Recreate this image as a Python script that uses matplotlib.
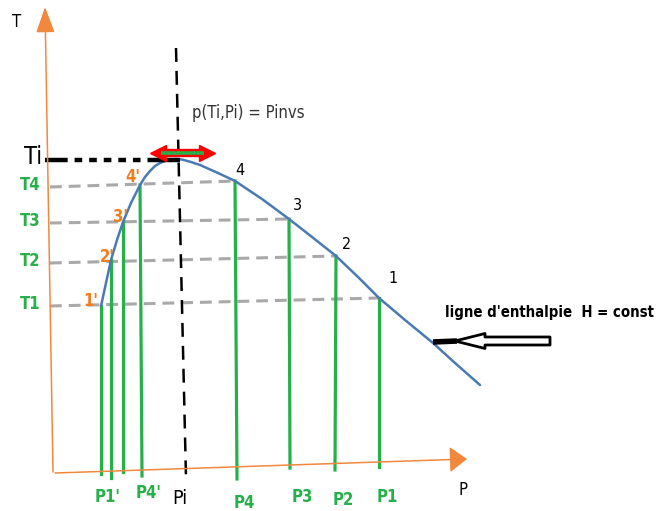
import matplotlib.pyplot as plt

plt.rcParams['lines.scale_dashes'] = False
plt.rcParams['font.family'] = ['DejaVu Sans']
plt.rcParams['font.stretch'] = 'condensed'

GREEN = '#27b04a'
ORANGE = '#f0883e'
ORANGE_TXT = '#f07d20'
BLUE = '#4a7ab4'
GRAY = '#a9a9a9'

# isenthalpic line H = const, sampled as (P, T)
curve_p = [46, 51, 56, 62, 68, 76, 85, 90, 95, 100, 105, 110, 115, 121, 127, 136, 145, 154,
           163, 180, 207, 234, 257, 281, 303, 324, 350, 378, 400, 425]
curve_t = [166, 189, 212, 232, 250, 269, 287, 295, 301, 306, 309, 311, 312.5, 313, 312.5, 310, 307, 303,
           299, 291, 273, 253, 235, 216, 195, 174, 152, 129, 109, 87]

# states on the rising branch (1'..4') and on the falling branch (1..4)
low_names = ["1'", "2'", "3'", "4'"]
low_p = [46, 56, 68, 85]
low_t = [166, 212, 250, 287]
low_foot_p = [46, 56, 68, 87]
low_foot_t = [-2, -6, 0, -4]

high_names = ['1', '2', '3', '4']
high_p = [324, 281, 234, 180]
high_t = [174, 216, 253, 291]
high_foot_p = [324, 280, 235, 182]
high_foot_t = [5, 2, 4, -7]

# isotherms T1..T4
iso_names = ['T1', 'T2', 'T3', 'T4']
iso_start_t = [166, 209, 249, 285]

# inversion point
p_inv_top, p_inv_bottom = 121, 131
t_inv = 312

fig = plt.figure(figsize=(6.64, 5.11), dpi=100)
ax = fig.add_axes([0, 0, 1, 1])
ax.set_xlim(-55, 609)
ax.set_ylim(-39, 472)
ax.axis('off')

# axes arrows
ax.annotate('', xy=(-10, 465), xytext=(-2, 0),
            arrowprops=dict(arrowstyle='-|>,head_length=0.8,head_width=0.29',
                            color=ORANGE, lw=1.1, mutation_scale=20,
                            shrinkA=0, shrinkB=0))
ax.annotate('', xy=(412, 13), xytext=(0, -1),
            arrowprops=dict(arrowstyle='-|>,head_length=0.54,head_width=0.4',
                            color=ORANGE, lw=1.1, mutation_scale=20,
                            shrinkA=0, shrinkB=0))
ax.text(-38, 450, 'T', fontsize=12, ha='center', va='center')
ax.text(408, -18, 'P', fontsize=12, ha='center', va='center')

# isotherms
for name, t0, p1, t1 in zip(iso_names, iso_start_t, high_p, high_t):
    ax.plot([-5, p1], [t0, t1], color=GRAY, lw=2.2, dashes=(8.5, 5), zorder=1)
    ax.text(-25, t0 + 2, name, color=GREEN, fontsize=12, fontweight='bold',
            ha='center', va='center')

# vertical drops to the pressure axis
for p, t, fp, ft in zip(low_p, low_t, low_foot_p, low_foot_t):
    ax.plot([p, fp], [t, ft], color=GREEN, lw=2.3, zorder=2)
for p, t, fp, ft in zip(high_p, high_t, high_foot_p, high_foot_t):
    ax.plot([p, fp], [t, ft], color=GREEN, lw=2.3, zorder=2)

# inversion temperature / pressure guides
ax.plot([p_inv_top, p_inv_bottom], [424, -6], color='black', lw=1.8,
        dashes=(10, 6.5), zorder=2)
ax.plot([-10, 5], [t_inv, t_inv], color='black', lw=3.2, solid_capstyle='butt')
ax.plot([5, 100], [t_inv, t_inv], color='black', lw=3.2, dashes=(5.5, 5),
        solid_capstyle='butt')
ax.plot([100, 125], [t_inv, t_inv], color='black', lw=3.2, solid_capstyle='butt', zorder=4)

# the enthalpy curve
ax.plot(curve_p, curve_t, color=BLUE, lw=1.8, zorder=3, solid_capstyle='round')

# double arrow around the maximum
ax.plot([104, 151], [319, 319], color='red', lw=6, solid_capstyle='butt', zorder=5)
ax.plot([106, 149], [319, 319], color=GREEN, lw=2.6, solid_capstyle='butt', zorder=6)
ax.plot([103], [319], marker='<', color='red', ms=11, zorder=5)
ax.plot([152], [319], marker='>', color='red', ms=11, zorder=5)

ax.text(-22, 315, 'Ti', fontsize=17, ha='center', va='center')
ax.text(137, 359, 'p(Ti,Pi) = Pinvs', fontsize=12, ha='left', va='center',
        color='#333333')

# state labels
low_offsets = [(-3, 0), (4, -2), (5, 0), (0, 3)]
for name, p, t, off in zip(low_names, low_p, low_t, low_offsets):
    ax.annotate(name, xy=(p, t), xytext=off, textcoords='offset pixels',
                ha='right', va='baseline', color=ORANGE_TXT, fontsize=12,
                fontweight='bold')
high_offsets = [(9, 15), (6, 7), (4, 9), (0, 6)]
for name, p, t, off in zip(high_names, high_p, high_t, high_offsets):
    ax.annotate(name, xy=(p, t), xytext=off, textcoords='offset pixels',
                ha='left', va='baseline', fontsize=11.5)

# pressure labels under the axis
for name, p, t in [("P1'", 53, -25), ("P4'", 94, -21), ('P4', 189, -31),
                   ('P3', 247, -25), ('P2', 288, -28), ('P1', 332, -25)]:
    ax.text(p, t, name, color=GREEN, fontsize=12, fontweight='bold',
            ha='center', va='center')
ax.text(125, -26, 'Pi', fontsize=14, ha='center', va='center')

# callout for the isenthalpic line
ax.text(390, 160, "ligne d'enthalpie  H = const", fontsize=10.7,
        fontweight='bold', ha='left', va='center')
ax.plot([378, 402], [130, 131], color='black', lw=4, solid_capstyle='butt', zorder=6)
ax.annotate('', xy=(400, 131), xytext=(495, 131),
            arrowprops=dict(arrowstyle='simple,head_length=1.2,head_width=0.6,tail_width=0.32',
                            fc='white', ec='black', lw=2.0, mutation_scale=18,
                            shrinkA=0, shrinkB=0), zorder=6)

fig.savefig('out.png', dpi=100)
